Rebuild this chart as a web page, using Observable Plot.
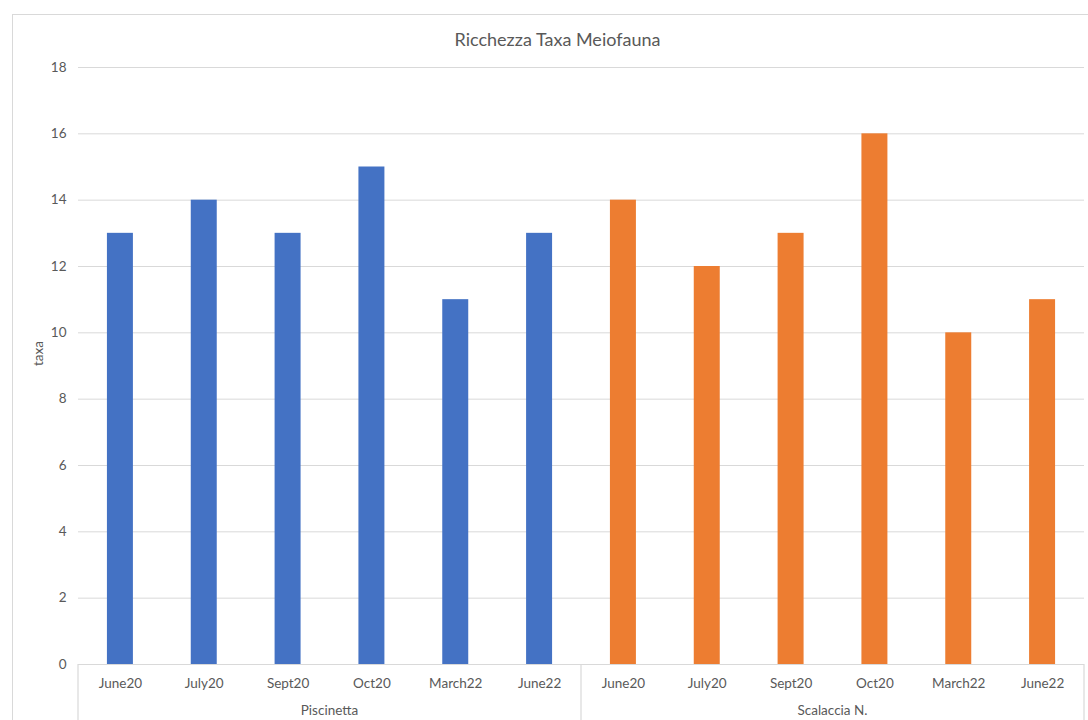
<!DOCTYPE html>
<html><head><meta charset="utf-8">
<script src="https://cdn.jsdelivr.net/npm/d3@7"></script>
<script src="https://cdn.jsdelivr.net/npm/@observablehq/plot@0.6"></script>
<style>
body{margin:0;background:#fff;overflow:hidden;}
#chart svg{display:block;}
</style></head>
<body><div id="chart"></div>
<script>
const title = "Ricchezza Taxa Meiofauna";
const yLabel = "taxa";
const sites = ["Piscinetta", "Scalaccia N."];
const months = ["June20", "July20", "Sept20", "Oct20", "March22", "June22"];
const piscinetta = [13, 14, 13, 15, 11, 13];
const scalaccia = [14, 12, 13, 16, 10, 11];
const yTicks = [0, 2, 4, 6, 8, 10, 12, 14, 16, 18];
const colors = ["#4472C4", "#ED7D31"];

const series = [piscinetta, scalaccia];
const data = [];
sites.forEach((s, i) => months.forEach((m, j) =>
  data.push({site: s, month: m, key: s + "|" + m, value: series[i][j]})));

const font = "Lato, 'Open Sans', sans-serif";
const textColor = "#595959";
const gridColor = "#D9D9D9";
const fs = 13.5;

const plot = Plot.plot({
  width: 1088, height: 720,
  marginLeft: 78, marginRight: 4, marginTop: 67, marginBottom: 56,
  style: {fontFamily: font, fontSize: fs + "px", color: textColor, background: "transparent"},
  x: {domain: data.map(d => d.key), paddingInner: 0.69, paddingOuter: 0.345, round: false, label: null},
  y: {domain: [0, 18], label: null},
  color: {domain: sites, range: colors},
  marks: [
    Plot.gridY(yTicks, {stroke: gridColor, strokeOpacity: 1, strokeWidth: 1}),
    Plot.barY(data, {x: "key", y: "value", fill: "site"}),
    Plot.ruleY([0], {stroke: gridColor, strokeWidth: 1.2}),
    Plot.axisY(yTicks, {tickSize: 0, tickPadding: 12, label: null, fill: textColor, fontSize: fs}),
    Plot.axisX({tickSize: 0, tickPadding: 14, tickFormat: k => k.split("|")[1], label: null, fill: textColor, fontSize: fs}),
    Plot.text([title], {frameAnchor: "top", lineAnchor: "middle", dy: -27, dx: -24, fontSize: 18, fill: textColor, fontFamily: font}),
    Plot.text([yLabel], {frameAnchor: "left", dx: -40, rotate: -90, fontSize: fs, fill: textColor, fontFamily: font})
  ]
});

document.getElementById("chart").appendChild(plot);

// Category-group decorations derived from the x scale
const xs = plot.scale("x");
const n = xs.domain.length;
const step = (xs.range[1] - xs.range[0]) / n;
const svg = d3.select(plot);
const y0 = plot.scale("y").apply(0);
const bottom = 720;

// outer chart border
svg.insert("rect", ":first-child")
  .attr("x", 12.5).attr("y", 14.5).attr("width", 1100).attr("height", 800)
  .attr("fill", "none").attr("stroke", gridColor);

const groupStart = s => xs.apply(s + "|" + months[0]) - step * 0.345;
const bounds = sites.map(groupStart).concat([xs.range[1]]);
bounds.forEach(bx => {
  svg.append("line")
    .attr("x1", bx).attr("x2", bx).attr("y1", y0).attr("y2", bottom + 10)
    .attr("stroke", gridColor).attr("stroke-width", 1.2);
});
sites.forEach((s, i) => {
  svg.append("text")
    .attr("x", (bounds[i] + bounds[i + 1]) / 2).attr("y", y0 + 51)
    .attr("text-anchor", "middle")
    .attr("font-family", font).attr("font-size", fs).attr("fill", textColor)
    .text(s);
});
</script>
</body></html>
